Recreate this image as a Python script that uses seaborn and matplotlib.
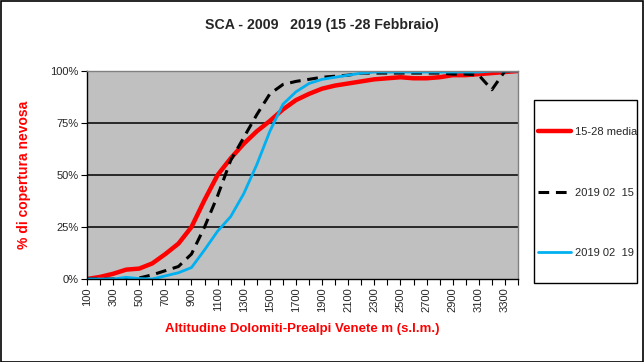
import matplotlib
matplotlib.use("Agg")
import matplotlib.pyplot as plt
import seaborn as sns
import pandas as pd
from matplotlib.patches import Rectangle
from matplotlib.ticker import FuncFormatter

altitudes = list(range(100, 3500, 100))
media = [0, 1, 2.5, 4.5, 5, 7.5, 12, 17, 25, 38, 50, 58, 65, 71, 76, 81.5, 86, 89,
         91.5, 93, 94, 95, 96, 96.5, 97, 96.5, 96.5, 97, 98, 98, 98.5, 99, 99.5, 100]
d0215 = [0, 0, 0, 0, 0.5, 2, 4, 6, 12, 25, 40, 57, 68, 79, 89, 93.5, 95, 96,
         97, 97.5, 98, 99, 99, 99, 99, 99, 99, 99, 98.5, 98.5, 98, 91, 100, 100]
d0219 = [0, 0, 0, 0.8, 0.2, 0, 1.5, 3, 5.5, 14, 23, 30, 41, 55, 71, 84, 90, 94,
         96, 97, 98, 99, 99.5, 99.5, 99.5, 99.5, 99.5, 99.5, 99.5, 99.5, 99.5, 100, 100, 100]
labels = ["15-28 media", "2019 02  15", "2019 02  19"]
title = "SCA - 2009   2019 (15 -28 Febbraio)"
ylabel = "% di copertura nevosa"
xlabel = "Altitudine Dolomiti-Prealpi Venete m (s.l.m.)"

df = pd.DataFrame({"alt": altitudes, labels[0]: media, labels[1]: d0215, labels[2]: d0219})

sns.set_theme(style="white")
plt.rcParams["font.family"] = ["Liberation Sans", "DejaVu Sans"]

W, H = 644, 362
fig = plt.figure(figsize=(W / 100, H / 100), dpi=100)
ax = fig.add_axes([87 / W, 1 - 279 / H, (518 - 87) / W, (279 - 71) / H])
ax.set_facecolor("#C0C0C0")

sns.lineplot(data=df, x="alt", y=labels[0], ax=ax, color="#FF0000", lw=3.2, label=labels[0])
sns.lineplot(data=df, x="alt", y=labels[1], ax=ax, color="black", lw=2.2, label=labels[1])
ax.lines[-1].set_dashes([3.5, 2.2])
sns.lineplot(data=df, x="alt", y=labels[2], ax=ax, color="#00B0F0", lw=2.0, label=labels[2])

ax.set_xlim(100, 3400)
ax.set_ylim(0, 100)
for y in [25, 50, 75]:
    ax.axhline(y, color="black", lw=1.1, zorder=0.5)

ax.set_yticks([0, 25, 50, 75, 100])
ax.yaxis.set_major_formatter(FuncFormatter(lambda v, p: f"{int(v)}%"))
ax.set_xticks(altitudes)
ax.set_xticklabels([str(a) if i % 2 == 0 else "" for i, a in enumerate(altitudes)], rotation=90)
ax.tick_params(axis="both", direction="out", length=4, width=0.8, color="black",
               labelsize=8, pad=2, bottom=True, left=True)
for s in ax.spines.values():
    s.set_color("#808080")
    s.set_linewidth(1)
ax.spines["bottom"].set_color("black")
ax.spines["left"].set_color("black")

ax.set_xlabel(xlabel, color="#FF0000", fontsize=9.5, fontweight="bold", labelpad=8)
ax.set_ylabel(ylabel, color="#FF0000", fontsize=10, fontweight="bold", labelpad=14)
fig.text(0.5, 1 - 25 / H, title, ha="center", va="center", fontsize=10.2, fontweight="bold")

leg = ax.legend(loc="upper left", bbox_to_anchor=(538 / W, 1 - 127 / H),
                bbox_transform=fig.transFigure, fontsize=8, frameon=False,
                handlelength=3.0, handletextpad=0.3,
                labelspacing=4.56, borderpad=0, borderaxespad=0)

fig.patches.append(Rectangle((534 / W, 1 - 283 / H), (637 - 534) / W, (283 - 100) / H,
                             transform=fig.transFigure, facecolor="white",
                             edgecolor="black", lw=1, zorder=-1))
fig.patches.append(Rectangle((0.5 / W, 0.5 / H), 1 - 1.5 / W, 1 - 1.5 / H, transform=fig.transFigure,
                             fill=False, edgecolor="black", lw=1.2))
fig.savefig("out.png", dpi=100)
